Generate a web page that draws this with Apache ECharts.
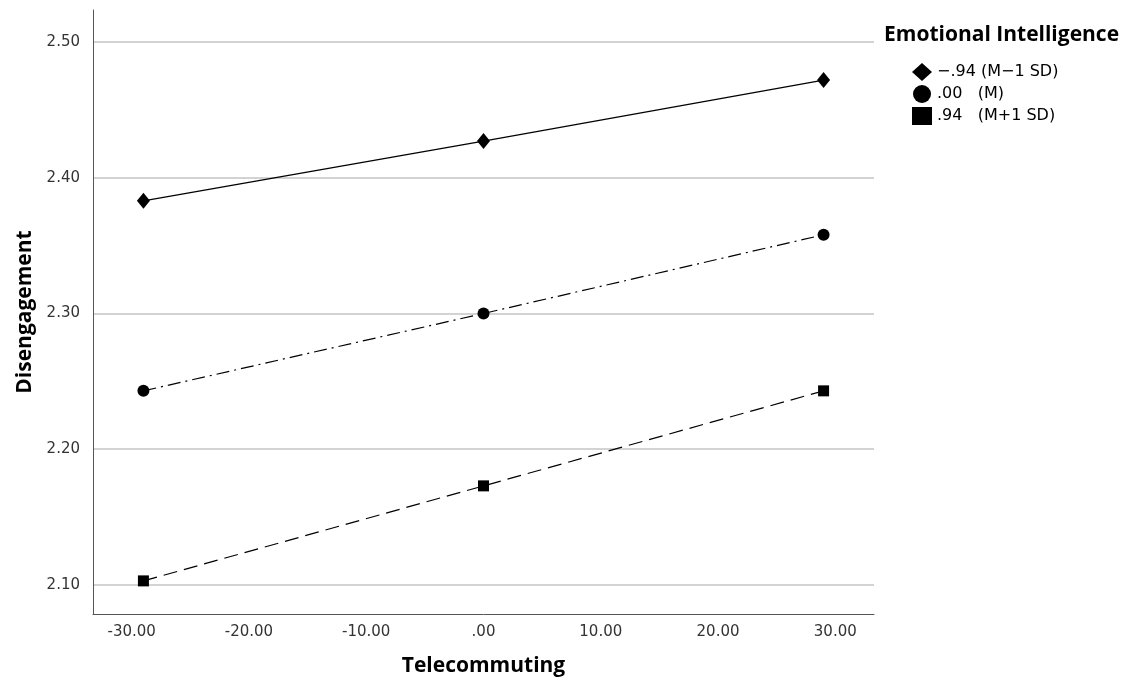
<!DOCTYPE html>
<html>
<head>
<meta charset="utf-8">
<script src="https://cdn.jsdelivr.net/npm/echarts@6/dist/echarts.min.js"></script>
<style>
  html, body { margin: 0; padding: 0; background: #fff; }
  #chart { width: 1134px; height: 684px; }
</style>
</head>
<body>
<div id="chart"></div>
<script>
// values
var xValues = [-29, 0, 29];
var lowEI = [2.383, 2.427, 2.472];   // -.94 (M-1 SD)
var meanEI = [2.243, 2.300, 2.358];  // .00 (M)
var highEI = [2.103, 2.173, 2.243];  // .94 (M+1 SD)
var seriesNames = ['\u2212.94 (M\u22121 SD)', '.00   (M)', '.94   (M+1 SD)'];
var xTicks = [-30, -20, -10, 0, 10, 20, 30];
var yTicks = [2.10, 2.20, 2.30, 2.40, 2.50];

function pairs(ys) {
  return xValues.map(function (x, i) { return [x, ys[i]]; });
}

// SPSS style: ".00", "-30.00"
function spssFmt(v) {
  var s = Number(v).toFixed(2);
  return s.replace(/^0\./, '.').replace(/^-0\./, '-.');
}

var chartDom = document.getElementById('chart');
var myChart = echarts.init(chartDom, null, { renderer: 'canvas' });

var boldFont = '"Open Sans", sans-serif';
var tickFont = '"DejaVu Sans", sans-serif';

var option = {
  animation: false,
  backgroundColor: '#fff',
  title: {
    text: 'Emotional Intelligence',
    left: 879,
    top: 20,
    textStyle: { fontFamily: boldFont, fontWeight: 'bold', fontSize: 21, color: '#000' }
  },
  legend: {
    orient: 'vertical',
    left: 907,
    top: 58,
    itemWidth: 20,
    itemHeight: 18,
    itemGap: 4,
    data: [
      { name: seriesNames[0], icon: 'diamond' },
      { name: seriesNames[1], icon: 'circle' },
      { name: seriesNames[2], icon: 'rect' }
    ],
    textStyle: { fontFamily: tickFont, fontSize: 16, color: '#000' }
  },
  grid: { left: 93, right: 260, top: 10, bottom: 70 },
  xAxis: {
    type: 'value',
    min: -33.3,
    max: 33.3,
    name: 'Telecommuting',
    nameLocation: 'middle',
    nameGap: 42,
    nameTextStyle: { fontFamily: boldFont, fontWeight: 'bold', fontSize: 21, color: '#000' },
    axisLine: { show: true, onZero: false, lineStyle: { color: '#555', width: 1 } },
    axisTick: { show: false, customValues: xTicks },
    splitLine: { show: false },
    axisLabel: {
      customValues: xTicks,
      formatter: spssFmt,
      margin: 11,
      fontFamily: tickFont, fontSize: 15, color: '#333'
    }
  },
  yAxis: {
    type: 'value',
    min: 2.0786,
    max: 2.5236,
    name: 'Disengagement',
    nameLocation: 'middle',
    nameGap: 52,
    nameTextStyle: { fontFamily: boldFont, fontWeight: 'bold', fontSize: 21, color: '#000' },
    axisLine: { show: true, onZero: false, lineStyle: { color: '#555', width: 1 } },
    axisTick: { show: false, customValues: yTicks },
    splitLine: { show: true, lineStyle: { color: '#c4c4c4', width: 1.5 } },
    axisLabel: {
      customValues: yTicks,
      formatter: function (v) { return Number(v).toFixed(2); },
      margin: 13,
      fontFamily: tickFont, fontSize: 15, color: '#333'
    }
  },
  series: [
    {
      name: seriesNames[0],
      type: 'line',
      data: pairs(lowEI),
      symbol: 'diamond',
      symbolSize: [13, 16],
      itemStyle: { color: '#000' },
      lineStyle: { color: '#000', width: 1.2, type: 'solid' }
    },
    {
      name: seriesNames[1],
      type: 'line',
      data: pairs(meanEI),
      symbol: 'circle',
      symbolSize: 12,
      itemStyle: { color: '#000' },
      lineStyle: { color: '#000', width: 1.2, type: [13, 5, 2, 5] }
    },
    {
      name: seriesNames[2],
      type: 'line',
      data: pairs(highEI),
      symbol: 'rect',
      symbolSize: 11,
      itemStyle: { color: '#000' },
      lineStyle: { color: '#000', width: 1.2, type: [14, 7] }
    }
  ]
};

myChart.setOption(option, true);
</script>
</body>
</html>
